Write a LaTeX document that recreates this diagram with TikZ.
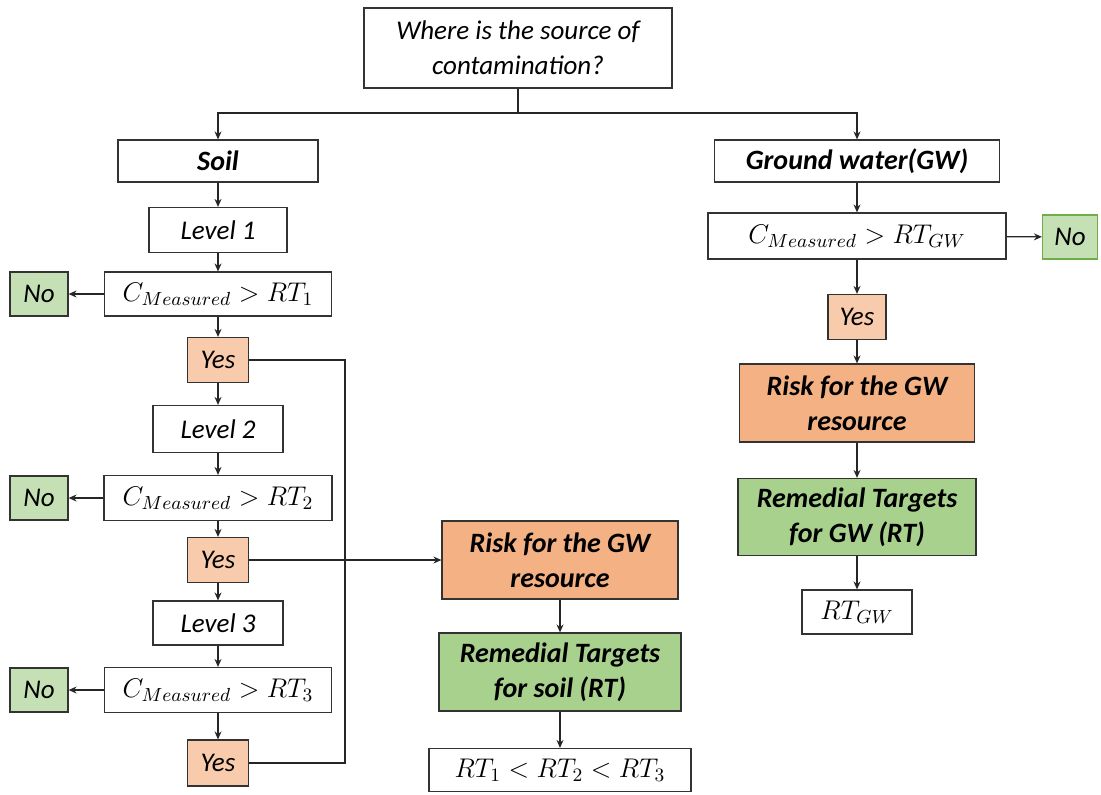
\RequirePackage{fix-cm}
\documentclass[tikz,border=0pt]{standalone}
\usepackage{fontspec}
\setmainfont{Carlito}
\usetikzlibrary{arrows.meta}

\definecolor{yesfill}{HTML}{F8CBAD}
\definecolor{riskfill}{HTML}{F4B183}
\definecolor{remfill}{HTML}{A9D18E}
\definecolor{nofill}{HTML}{C5E0B4}
\definecolor{nodraw}{HTML}{70AD47}

\tikzset{
  box/.style={draw=black!80,line width=0.6pt,fill=white,inner sep=0pt,align=center,
    font=\fontsize{13.5}{17.5}\selectfont\itshape},
  boldbox/.style={box,font=\fontsize{14}{17.5}\selectfont\bfseries\itshape},
  mathbox/.style={box,font=\fontsize{13.5}{17}\selectfont},
  yesbox/.style={box,fill=yesfill,minimum width=30.5pt,minimum height=22.5pt},
  nobox/.style={box,fill=nofill,minimum width=29pt,minimum height=22pt},
  arr/.style={-{Stealth[length=4pt,width=3.5pt]}},
  link/.style={draw=black!85,line width=0.6pt}
}

\begin{document}
\begin{tikzpicture}[x=0.5pt,y=-0.5pt]
    \useasboundingbox (0,0) rectangle (1101,794);
    % question
    \node[box,minimum width=154pt,minimum height=40pt] (where) at (518,48)
      {Where is the source of\\contamination?};
    \node[boldbox,minimum width=100pt,minimum height=21pt] (soil) at (218,161) {Soil};
    \node[boldbox,minimum width=142.5pt,minimum height=21pt] (gw) at (857,161) {Ground water(GW)};
    % soil branch
    \node[box,minimum width=69pt,minimum height=22.5pt] (lev1) at (218,230) {Level 1};
    \node[mathbox,minimum width=113.5pt,minimum height=22pt] (cmp1) at (218,294) {$C_{Measured} > RT_1$};
    \node[nobox] (no1) at (39,294) {No};
    \node[yesbox] (yes1) at (218,360) {Yes};
    \node[box,minimum width=65pt,minimum height=23.5pt] (lev2) at (218,429) {Level 2};
    \node[mathbox,minimum width=114pt,minimum height=22.5pt] (cmp2) at (218,498) {$C_{Measured} > RT_2$};
    \node[nobox] (no2) at (39,498) {No};
    \node[yesbox] (yes2) at (218,560) {Yes};
    \node[box,minimum width=65pt,minimum height=22pt] (lev3) at (218,623) {Level 3};
    \node[mathbox,minimum width=113.5pt,minimum height=22.5pt] (cmp3) at (218,690) {$C_{Measured} > RT_3$};
    \node[nobox] (no3) at (39,690) {No};
    \node[yesbox,minimum height=23pt] (yes3) at (218,763) {Yes};
    \node[boldbox,fill=riskfill,minimum width=118pt,minimum height=39pt] (risk) at (560,560)
      {Risk for the GW\\resource};
    \node[boldbox,fill=remfill,minimum width=121pt,minimum height=39pt] (rem) at (560,672)
      {Remedial Targets\\for soil (RT)};
    \node[mathbox,minimum width=131pt,minimum height=21.5pt] (order) at (560,770) {$RT_1 < RT_2 < RT_3$};
    % groundwater branch
    \node[mathbox,minimum width=149pt,minimum height=23pt] (cmpgw) at (857,236) {$C_{Measured} > RT_{GW}$};
    \node[nobox,draw=nodraw,minimum width=27.5pt] (nogw) at (1070,237) {No};
    \node[yesbox,minimum width=29pt] (yesgw) at (857,317) {Yes};
    \node[boldbox,fill=riskfill,minimum width=117.5pt,minimum height=39pt] (riskgw) at (857,403)
      {Risk for the GW\\resource};
    \node[boldbox,fill=remfill,minimum width=119pt,minimum height=38.5pt] (remgw) at (857,517)
      {Remedial Targets\\for GW (RT)};
    \node[mathbox,minimum width=55pt,minimum height=22pt] (rtgw) at (857,612) {$RT_{GW}$};

    \coordinate (split) at (518,113);
    \coordinate (join) at (345,560);
    \draw[link] (where) -- (split);
    \draw[link,arr] (split) -| (soil);
    \draw[link,arr] (split) -| (gw);
    \draw[link,arr] (soil) -- (lev1);
    \draw[link,arr] (lev1) -- (cmp1);
    \draw[link,arr] (cmp1) -- (yes1);
    \draw[link,arr] (yes1) -- (lev2);
    \draw[link,arr] (lev2) -- (cmp2);
    \draw[link,arr] (cmp2) -- (yes2);
    \draw[link,arr] (yes2) -- (lev3);
    \draw[link,arr] (lev3) -- (cmp3);
    \draw[link,arr] (cmp3) -- (yes3);
    \draw[link,arr] (cmp1) -- (no1);
    \draw[link,arr] (cmp2) -- (no2);
    \draw[link,arr] (cmp3) -- (no3);
    \draw[link] (yes1) -| (join) |- (yes3);
    \draw[link,arr] (yes2) -- (risk);
    \draw[link,arr] (risk) -- (rem);
    \draw[link,arr] (rem) -- (order);
    \draw[link,arr] (gw) -- (cmpgw);
    \draw[link,arr] (cmpgw) -- (nogw);
    \draw[link,arr] (cmpgw) -- (yesgw);
    \draw[link,arr] (yesgw) -- (riskgw);
    \draw[link,arr] (riskgw) -- (remgw);
    \draw[link,arr] (remgw) -- (rtgw);
\end{tikzpicture}
\end{document}
